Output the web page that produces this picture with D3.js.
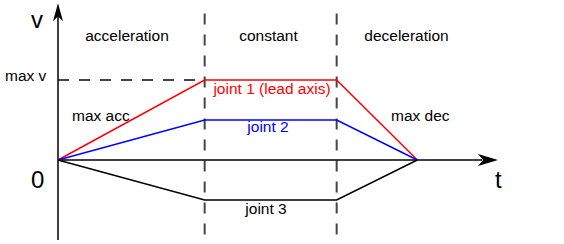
<!DOCTYPE html>
<html>
<head>
<meta charset="utf-8">
<script src="https://d3js.org/d3.v7.min.js"></script>
<style>
  body, html { margin: 0; padding: 0; background: #fff; }
  svg { display: block; font-family: Arial, "Liberation Sans", sans-serif; }
</style>
</head>
<body>
<svg id="chart" width="564" height="244"></svg>
<script>
// trapezoid velocity profiles
var times = [0, 2, 3.8, 4.9];          // phase breakpoints
var joint1 = [0, 1, 1, 0];
var joint2 = [0, 0.5, 0.5, 0];
var joint3 = [0, -0.5, -0.5, 0];
var series = [
  {name: "joint 1 (lead axis)", values: joint1, color: "#ff0000", lx: 272, ly: 0.83},
  {name: "joint 2", values: joint2, color: "#0000ff", lx: 268, ly: 0.35},
  {name: "joint 3", values: joint3, color: "#000000", lx: 266, ly: -0.68}
];
var phases = ["acceleration", "constant", "deceleration"];
var phaseX = [127, 268.5, 406.5];
var tMax = 6, vTop = 1.96, vBottom = -1;

var svg = d3.select("#chart");
var x = d3.scaleLinear().domain([0, tMax]).range([58, 498]);
var y = d3.scaleLinear().domain([-1, 1]).range([240, 80]);

// dashed phase boundaries
svg.selectAll("line.phase")
  .data([times[1], times[2]])
  .enter().append("line")
  .attr("x1", d => x(d)).attr("x2", d => x(d))
  .attr("y1", y(1.83)).attr("y2", y(vBottom))
  .attr("stroke", "#444").attr("stroke-width", 2)
  .attr("stroke-dasharray", "11,10");

// max v dashed line
svg.append("line")
  .attr("x1", x(0)).attr("x2", x(times[1]))
  .attr("y1", y(1)).attr("y2", y(1))
  .attr("stroke", "#444").attr("stroke-width", 2)
  .attr("stroke-dasharray", "11,10");

// axes
svg.append("line")
  .attr("x1", x(0)).attr("x2", x(tMax) - 16)
  .attr("y1", y(0)).attr("y2", y(0))
  .attr("stroke", "#000").attr("stroke-width", 1.5);
svg.append("line")
  .attr("x1", x(0)).attr("x2", x(0))
  .attr("y1", y(vBottom)).attr("y2", y(vTop) + 12)
  .attr("stroke", "#000").attr("stroke-width", 1.5);

// arrow heads
var ax = x(tMax), ay = y(0);
svg.append("path")
  .attr("d", "M" + ax + "," + ay + "L" + (ax - 20) + "," + (ay - 6) + "L" + (ax - 15) + "," + ay + "L" + (ax - 20) + "," + (ay + 6) + "Z")
  .attr("fill", "#000");
var vx = x(0), vy = y(vTop);
svg.append("path")
  .attr("d", "M" + vx + "," + vy + "L" + (vx - 5) + "," + (vy + 18) + "L" + vx + "," + (vy + 13) + "L" + (vx + 5) + "," + (vy + 18) + "Z")
  .attr("fill", "#000");

// profiles
var line = d3.line().x((d, i) => x(times[i])).y(d => y(d));
svg.selectAll("path.profile")
  .data(series)
  .enter().append("path")
  .attr("class", "profile")
  .attr("d", d => line(d.values))
  .attr("fill", "none")
  .attr("stroke", d => d.color)
  .attr("stroke-width", 1.5);

svg.selectAll("text.jlabel")
  .data(series)
  .enter().append("text")
  .attr("x", d => d.lx).attr("y", d => y(d.ly))
  .attr("text-anchor", "middle")
  .attr("font-size", 15.5)
  .attr("fill", d => d.color)
  .text(d => d.name);

// phase labels
svg.selectAll("text.phase")
  .data(phases)
  .enter().append("text")
  .attr("x", (d, i) => phaseX[i]).attr("y", 41)
  .attr("text-anchor", "middle")
  .attr("font-size", 15.5)
  .text(d => d);

// other labels
svg.append("text").attr("x", 5).attr("y", 81).attr("font-size", 15.5).text("max v");
svg.append("text").attr("x", 72).attr("y", 121).attr("font-size", 15.5).text("max acc");
svg.append("text").attr("x", 391).attr("y", 121).attr("font-size", 15.5).text("max dec");
svg.append("text").attr("x", 31).attr("y", 28).attr("font-size", 24).text("v");
svg.append("text").attr("x", 31).attr("y", 188).attr("font-size", 24).text("0");
svg.append("text").attr("x", 495).attr("y", 188).attr("font-size", 24).text("t");
</script>
</body>
</html>
